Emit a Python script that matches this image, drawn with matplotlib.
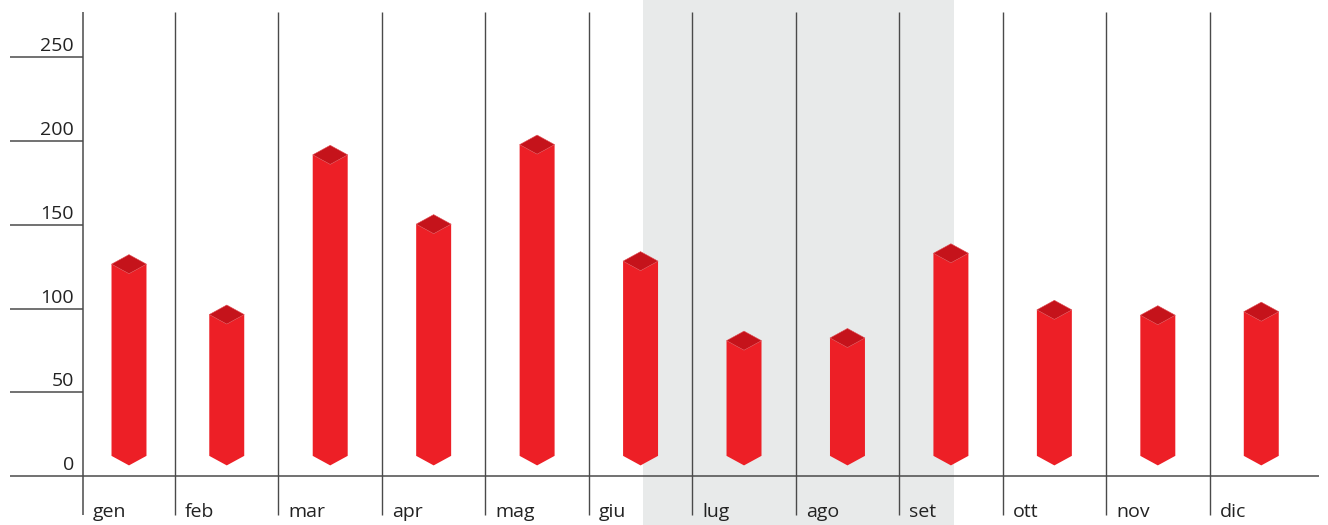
import numpy as np
import matplotlib.pyplot as plt
from matplotlib.patches import Polygon

months = ["gen", "feb", "mar", "apr", "mag", "giu", "lug", "ago", "set", "ott", "nov", "dic"]
values = [126.5, 96.4, 191.8, 150.4, 197.9, 128.3, 80.8, 82.4, 133.0, 99.2, 96.0, 98.1]
yticks = [0, 50, 100, 150, 200, 250]
shade_from, shade_to = "giu", "set"   # grey band for the summer months

RED = "#ed1f26"
RED_TOP = "#c5131b"
LINE = "#4a4a4a"
TEXT = "#222222"

plt.rcParams["font.family"] = ["Open Sans", "DejaVu Sans"]

fig = plt.figure(figsize=(13.28, 5.25), dpi=100)
ax = fig.add_axes([0, 0, 1, 1])
ax.axis("off")
ax.set_xlim(-1.1919, 11.645)
ax.set_ylim(-29.3, 284.3)

yaxis_x = -0.39
x = np.arange(len(months), dtype=float)
# first column is narrower (starts at the y axis), bar sits in its middle
x[0] = (yaxis_x + 0.5) / 2

# grey band
ax.axvspan(months.index(shade_from) + 0.02, months.index(shade_to) + 0.03,
           color="#e8eaea", zorder=0, lw=0)

# y axis line + month separators
seps = np.arange(1, len(months)) - 0.5
ax.vlines(yaxis_x, -23.3, 277.2, color=LINE, lw=1.1, zorder=1)
ax.vlines(seps, -23.3, 277.2, color=LINE, lw=1.0, zorder=1)

# ticks / baseline
for t in yticks:
    right = 11.559 if t == 0 else yaxis_x
    ax.hlines(t, -1.095, right, color=LINE, lw=1.1, zorder=1)
    ax.text(-0.477, t + 3.6, str(t), ha="right", va="baseline", fontsize=14, color=TEXT)

# month labels
lefts = np.concatenate([[yaxis_x], seps])
for left, m in zip(lefts, months):
    ax.text(left + 0.097, -24.5, m, ha="left", va="baseline", fontsize=14, color=TEXT)

# prism bars
w = 0.169     # half width in x units
dh = 5.7      # half height of the top diamond
bottom = 12
for xi, v in zip(x, values):
    front = [(xi - w, v), (xi, v - dh), (xi + w, v), (xi + w, bottom),
             (xi, bottom - dh), (xi - w, bottom)]
    top = [(xi - w, v), (xi, v + dh), (xi + w, v), (xi, v - dh)]
    ax.add_patch(Polygon(front, closed=True, facecolor=RED, edgecolor="none", zorder=3))
    ax.add_patch(Polygon(top, closed=True, facecolor=RED_TOP, edgecolor="#e04a50",
                         lw=0.4, zorder=4))

fig.savefig("out.png", dpi=100)
